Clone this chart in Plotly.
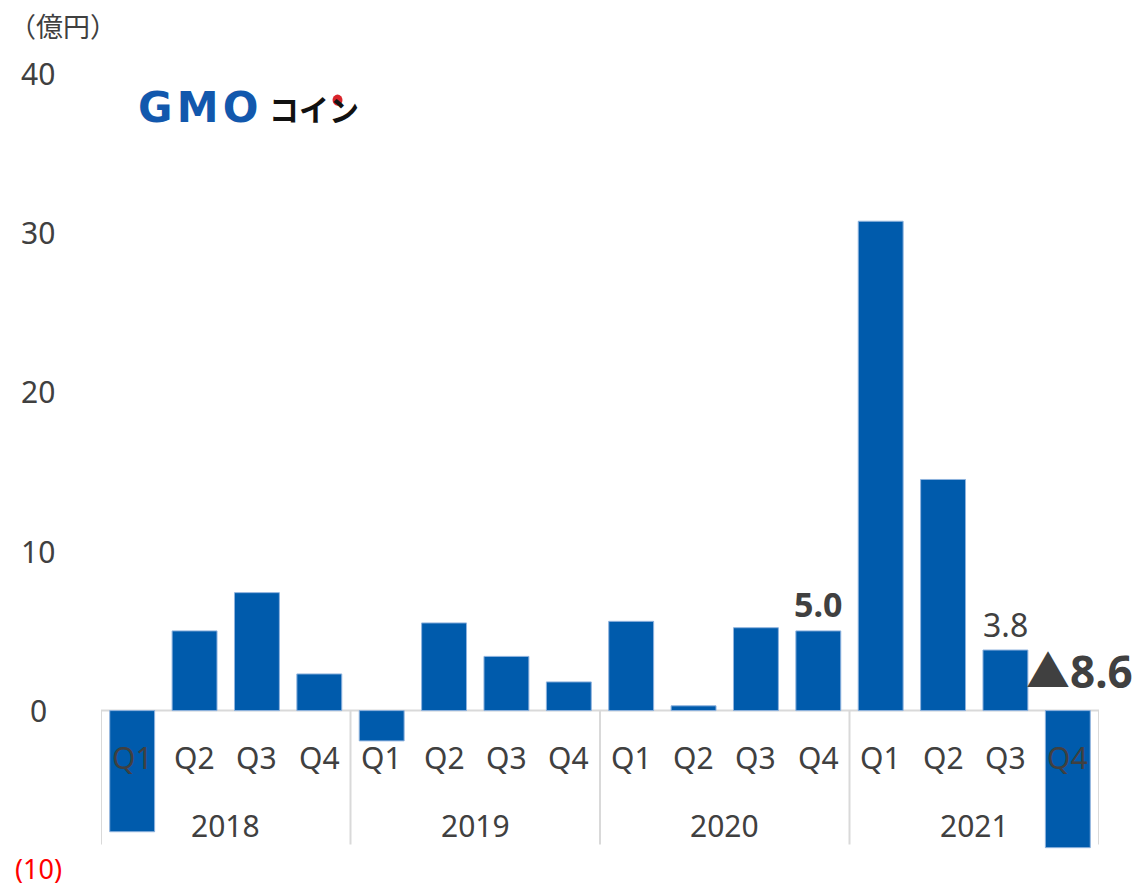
import plotly.graph_objects as go

years = ["2018", "2019", "2020", "2021"]
quarters = ["Q1", "Q2", "Q3", "Q4"]
profit = [-7.6, 5.0, 7.4, 2.3,
          -1.9, 5.5, 3.4, 1.8,
          5.6, 0.3, 5.2, 5.0,
          30.7, 14.5, 3.8, -8.6]
# which bars get a value label, and whether it is bold
labelled = {11: True, 14: False, 15: True}
yticks = [-10, 0, 10, 20, 30, 40]

cats = [f"{y} {q}" for y in years for q in quarters]

BLUE = "#005bac"
GREY = "#404040"
LINE = "#d9d9d9"
FONT = "Noto Sans, Noto Sans CJK JP, sans-serif"

fig = go.Figure(go.Bar(
    x=cats, y=profit,
    marker=dict(color=BLUE, line=dict(color="#8fb3de", width=1)),
    width=0.72,
    hoverinfo="skip",
))

# zero axis line and year dividers
fig.add_shape(type="line", xref="x", yref="y", x0=-0.5, x1=len(cats) - 0.5,
              y0=0, y1=0, line=dict(color=LINE, width=2), layer="below")
for i in range(len(years) + 1):
    xp = i * len(quarters) - 0.5
    fig.add_shape(type="line", xref="x", yref="y", x0=xp, x1=xp,
                  y0=0, y1=-8.4, line=dict(color=LINE, width=2), layer="below")

# category labels (drawn over the bars, like the original)
for c in cats:
    fig.add_annotation(x=c, y=-2.95, xref="x", yref="y", text=c.split()[1],
                       showarrow=False, font=dict(size=30, color=GREY, family=FONT))
for j, yr in enumerate(years):
    fig.add_annotation(x=j * 4 + 1.5, y=-7.2, xref="x", yref="y", text=yr,
                       showarrow=False, font=dict(size=30, color=GREY, family=FONT))

# y tick labels
for t in yticks:
    txt = f"({abs(t)})" if t < 0 else str(t)
    fig.add_annotation(x=-0.063, y=t, xref="paper", yref="y", text=txt,
                       showarrow=False, xanchor="center", yanchor="middle",
                       yshift=2 if t < 0 else 0,
                       font=dict(size=27 if t < 0 else 30,
                                 color="#ff0000" if t < 0 else GREY,
                                 family=FONT))

# value labels
for i, bold in labelled.items():
    v = profit[i]
    if v >= 0:
        txt = f"{v:.1f}"
        if bold:
            txt = f"<b>{txt}</b>"
        fig.add_annotation(x=cats[i], y=v, xref="x", yref="y", text=txt,
                           showarrow=False, yanchor="bottom", yshift=2,
                           font=dict(size=34 if bold else 32, color=GREY,
                                     family=FONT))
    else:
        fig.add_annotation(x=cats[i], y=0, xref="x", yref="y",
                           text=f"<b>▲{abs(v):.1f}</b>",
                           showarrow=False, yanchor="bottom", yshift=8,
                           xshift=12,
                           font=dict(size=44, color=GREY, family=FONT))

# unit
fig.add_annotation(x=-0.094, y=1.058, xref="paper", yref="paper", text="（億円）",
                   showarrow=False, xanchor="left", yanchor="middle",
                   font=dict(size=27, color=GREY, family=FONT))

# logo
fig.add_annotation(x=0.035, y=0.957, xref="paper", yref="paper",
                   text="<b>G\u200aM\u200aO</b>", showarrow=False,
                   xanchor="left", yanchor="middle",
                   font=dict(size=42, color="#1258ad", family="DejaVu Sans"))
fig.add_annotation(x=0.166, y=0.956, xref="paper", yref="paper",
                   text="<b>コイン</b>", showarrow=False,
                   xanchor="left", yanchor="middle",
                   font=dict(size=30, color="#111111", family="Noto Sans CJK JP"))
fig.add_shape(type="circle", xref="paper", yref="paper",
              x0=0.232, x1=0.242, y0=0.959, y1=0.973,
              fillcolor="#d9242b", line=dict(width=0))

# the page adds an 8px body margin, so the figure is 8px smaller
fig.update_layout(
    width=1132, height=880,
    margin=dict(l=93, r=41, t=65, b=18),
    plot_bgcolor="white", paper_bgcolor="white",
    showlegend=False,
    xaxis=dict(type="category", range=[-0.5, len(cats) - 0.5],
               showticklabels=False, showgrid=False, zeroline=False,
               showline=False, ticks=""),
    yaxis=dict(range=[-10, 40], showticklabels=False, showgrid=False,
               zeroline=False, showline=False, ticks=""),
)

fig.write_html("out.html")
